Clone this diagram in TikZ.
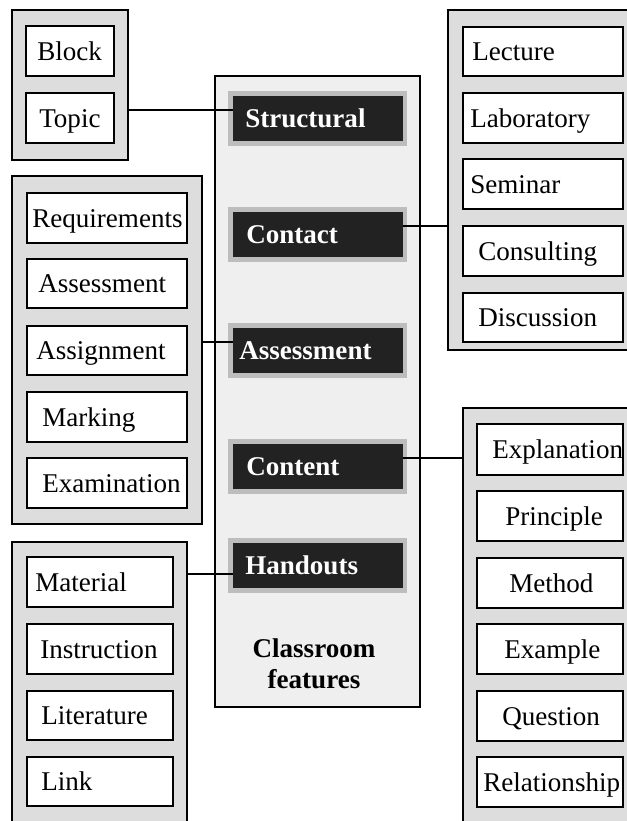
\documentclass[tikz,border=0pt]{standalone}
\usepackage{fontspec}
\setmainfont{Liberation Serif}
\usetikzlibrary{fit}
\definecolor{grpfill}{HTML}{DDDDDD}
\definecolor{panelfill}{HTML}{EFEFEF}
\definecolor{framegray}{HTML}{BDBDBD}
\definecolor{darkfill}{HTML}{222222}
\tikzset{
  grp/.style={draw=black, fill=grpfill, line width=1.8pt, inner sep=0pt},
  panel/.style={draw=black, fill=panelfill, line width=1.8pt, inner sep=0pt},
  ibox/.style={draw=black, fill=white, line width=1.8pt, inner sep=0pt},
  dframe/.style={fill=framegray, inner sep=0pt},
  dbox/.style={fill=darkfill, inner sep=0pt},
  lbl/.style={inner sep=0pt, font=\fontsize{20.3}{24}\selectfont},
  dlbl/.style={inner sep=0pt, text=white, font=\fontsize{20.3}{24}\selectfont\bfseries},
  conn/.style={draw=black, line width=1.6pt},
}
\newcommand\ibx[7]{%
  \node[ibox, fit={(#2,#3) (#4,#5)}] (#1) {};
  \pgfmathsetmacro\bly{(#3+#5)/2+9}
  \node[lbl, anchor=base west] at (#6,\bly) {#7};
}
\newcommand\dbx[4]{% name, y1 (frame top), textx, text
  \pgfmathsetmacro\fya{#2+55}
  \pgfmathsetmacro\dya{#2+5}
  \pgfmathsetmacro\dyb{#2+50}
  \pgfmathsetmacro\bly{#2+27.5+9}
  \node[dframe, fit={(228,#2) (407,\fya)}] (#1f) {};
  \node[dbox, fit={(233,\dya) (403,\dyb)}] (#1) {};
  \node[dlbl, anchor=base west] at (#3,\bly) {#4};
}
\begin{document}
\begin{tikzpicture}[x=0.75pt,y=-0.75pt]
\useasboundingbox (0,0) rectangle (627,821);
\fill[white] (0,0) rectangle (627,821);
% group boxes
\node[grp, fit={(12,10) (128,160)}] (gA) {};
\node[grp, fit={(448,10) (632,350)}] (gB) {};
\node[grp, fit={(12,176) (202,524)}] (gC) {};
\node[grp, fit={(12,542) (187,830)}] (gD) {};
\node[grp, fit={(463,408) (632,830)}] (gE) {};
\node[panel, fit={(215,76) (420,707)}] (center) {};
% group A
\ibx{block}{26}{26}{114}{76}{37}{Block}
\ibx{topic}{26}{93}{114}{143}{39}{Topic}
% group B
\ibx{lecture}{463}{27}{623}{76}{472}{Lecture}
\ibx{lab}{463}{93}{623}{143}{470}{Laboratory}
\ibx{seminar}{463}{159}{623}{209}{470}{Seminar}
\ibx{consult}{463}{226}{623}{276}{478}{Consulting}
\ibx{discuss}{463}{293}{623}{342}{478}{Discussion}
% group C
\ibx{req}{27}{193}{187}{243}{32}{Requirements}
\ibx{assess}{27}{259}{187}{308}{38}{Assessment}
\ibx{assign}{27}{326}{187}{375}{36}{Assignment}
\ibx{mark}{27}{392}{187}{442}{42}{Marking}
\ibx{exam}{27}{458}{187}{508}{42}{Examination}
% group D
\ibx{material}{27}{557}{173}{607}{35}{Material}
\ibx{instr}{27}{624}{173}{674}{40}{Instruction}
\ibx{lit}{27}{691}{173}{740}{41}{Literature}
\ibx{link}{27}{757}{173}{806}{41}{Link}
% group E
\ibx{expl}{477}{424}{623}{475}{492}{Explanation}
\ibx{princ}{477}{491}{623}{541}{505}{Principle}
\ibx{method}{477}{558}{623}{608}{509}{Method}
\ibx{example}{477}{624}{623}{674}{504}{Example}
\ibx{question}{477}{691}{623}{741}{502}{Question}
\ibx{relation}{477}{757}{623}{807}{483}{Relationship}
% dark boxes
\dbx{sstruct}{91}{245}{Structural}
\dbx{scontact}{207}{246}{Contact}
\dbx{sassess}{323}{239}{Assessment}
\dbx{scontent}{439}{246}{Content}
\dbx{shand}{538}{245}{Handouts}
% caption
\node[lbl, font=\fontsize{20.3}{24}\selectfont\bfseries, anchor=base] (cap1) at (314,657) {Classroom};
\node[lbl, font=\fontsize{20.3}{24}\selectfont\bfseries, anchor=base] (cap2) at (314,688) {features};
% connector levels
\coordinate (ly1) at (0,110);
\coordinate (ly2) at (0,226);
\coordinate (ly3) at (0,342);
\coordinate (ly4) at (0,458);
\coordinate (ly5) at (0,574);
\draw[conn] (gA.east |- ly1) -- (sstruct.west |- ly1);
\draw[conn] (scontact.east |- ly2) -- (gB.west |- ly2);
\draw[conn] (gC.east |- ly3) -- (sassess.west |- ly3);
\draw[conn] (scontent.east |- ly4) -- (gE.west |- ly4);
\draw[conn] (gD.east |- ly5) -- (shand.west |- ly5);
\end{tikzpicture}
\end{document}
